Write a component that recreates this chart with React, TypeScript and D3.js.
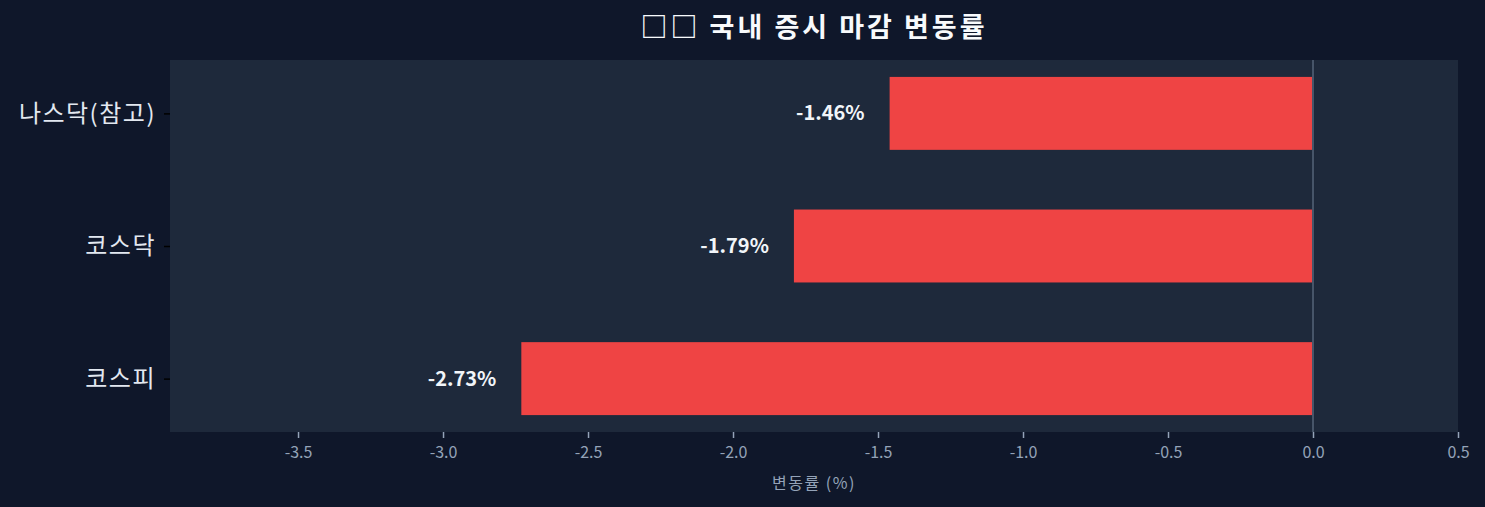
import React, { useEffect, useRef } from 'react';
import * as d3 from 'd3';

// 데이터
const markets = ['코스피', '코스닥', '나스닥(참고)'];
const changes = [-2.73, -1.79, -1.46];
const xTicks = [-3.5, -3.0, -2.5, -2.0, -1.5, -1.0, -0.5, 0.0, 0.5];

const W = 1485;
const H = 507;

const App: React.FC = () => {
  const ref = useRef<SVGSVGElement>(null);

  useEffect(() => {
    document.body.style.margin = '0';
    if (!ref.current) return;
    const svg = d3.select(ref.current);
    svg.selectAll('*').remove();

    const margin = { top: 60, right: 27, bottom: 75, left: 170 };
    const innerW = W - margin.left - margin.right;
    const innerH = H - margin.top - margin.bottom;
    const font = '"Noto Sans CJK KR", "Noto Sans", sans-serif';

    svg.append('rect').attr('width', W).attr('height', H).attr('fill', '#0f172a');

    const g = svg.append('g').attr('transform', `translate(${margin.left},${margin.top})`);

    const x = d3.scaleLinear().domain([-3.9415, 0.5]).range([0, innerW]);
    const barH = 0.55;
    const pad = 0.05 * (markets.length - 1 + barH);
    const y = d3.scaleLinear()
      .domain([-barH / 2 - pad, markets.length - 1 + barH / 2 + pad])
      .range([innerH, 0]);

    // 플롯 배경
    g.append('rect').attr('width', innerW).attr('height', innerH).attr('fill', '#1e293b');

    // 막대
    g.selectAll('.bar')
      .data(changes)
      .enter()
      .append('rect')
      .attr('class', 'bar')
      .attr('x', d => x(Math.min(0, d)))
      .attr('width', d => Math.abs(x(d) - x(0)))
      .attr('y', (_, i) => y(i + barH / 2))
      .attr('height', y(0) - y(barH))
      .attr('fill', '#ef4444');

    // 0 기준선
    g.append('line')
      .attr('x1', x(0)).attr('x2', x(0))
      .attr('y1', 0).attr('y2', innerH)
      .attr('stroke', '#475569')
      .attr('stroke-width', 2);

    // 값 라벨
    g.selectAll('.label')
      .data(changes)
      .enter()
      .append('text')
      .attr('class', 'label')
      .attr('x', d => x(d) - 25)
      .attr('y', (_, i) => y(i))
      .attr('dy', '0.35em')
      .attr('text-anchor', 'end')
      .attr('fill', '#f1f5f9')
      .style('font-family', font)
      .style('font-weight', 'bold')
      .style('font-size', '20px')
      .text(d => `${d.toFixed(2)}%`);

    // X축
    const xAxis = g.append('g')
      .attr('transform', `translate(0,${innerH})`)
      .call(d3.axisBottom(x).tickValues(xTicks).tickFormat(d => (d as number).toFixed(1)).tickSize(6).tickPadding(9));
    xAxis.select('.domain').remove();
    xAxis.selectAll('line').attr('stroke', '#94a3b8').attr('stroke-width', 1.5);
    xAxis.selectAll('text')
      .attr('fill', '#94a3b8')
      .style('font-family', font)
      .style('font-size', '16px');

    // Y축
    const yAxis = g.append('g')
      .call(d3.axisLeft(y).tickValues(markets.map((_, i) => i)).tickFormat((_, i) => markets[i]).tickSize(6).tickPadding(8));
    yAxis.select('.domain').remove();
    yAxis.selectAll('line').attr('stroke', '#000').attr('stroke-width', 1.5);
    yAxis.selectAll('text')
      .attr('fill', '#e2e8f0')
      .style('font-family', font)
      .style('font-size', '24px')
      .style('letter-spacing', '1.5px');

    // 축 제목
    svg.append('text')
      .attr('x', margin.left + innerW / 2)
      .attr('y', 489)
      .attr('text-anchor', 'middle')
      .attr('fill', '#94a3b8')
      .style('font-family', font)
      .style('font-size', '16px')
      .style('letter-spacing', '1.5px')
      .text('변동률 (%)');

    // 차트 제목
    svg.append('text')
      .attr('x', margin.left + innerW / 2)
      .attr('y', 37)
      .attr('text-anchor', 'middle')
      .attr('fill', '#f8fafc')
      .style('font-family', font)
      .style('font-weight', 'bold')
      .style('font-size', '27px')
      .style('letter-spacing', '3px')
      .text('□□ 국내 증시 마감 변동률');
  }, []);

  return <svg ref={ref} width={W} height={H} style={{ display: 'block' }} />;
};

export default App;
